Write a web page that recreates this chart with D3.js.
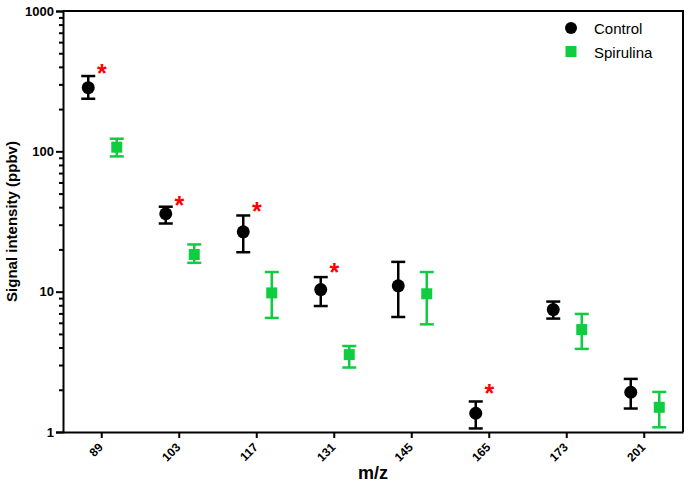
<!DOCTYPE html>
<html>
<head>
<meta charset="utf-8">
<script src="https://cdn.jsdelivr.net/npm/d3@7"></script>
<style>
body { margin: 0; background: #fff; }
text { font-family: "Liberation Sans", Arial, sans-serif; }
.axis path, .axis line { stroke: #000; stroke-width: 2px; }
.axis text { font-weight: bold; font-size: 12px; fill: #000; }
.label { font-weight: bold; fill: #000; }
</style>
</head>
<body>
<div id="chart"></div>
<script>
// m/z categories
let mz = ["89", "103", "117", "131", "145", "165", "173", "201"];

// Control: mean, lower, upper (ppbv)
let controlMean = [284, 35.9, 26.7, 10.35, 11.0, 1.36, 7.45, 1.92];
let controlLow  = [237, 30.6, 19.1, 7.9, 6.6, 1.06, 6.43, 1.47];
let controlHigh = [344, 40.3, 34.9, 12.7, 16.3, 1.65, 8.5, 2.39];

// Spirulina: mean, lower, upper (ppbv)
let spiruMean = [107, 18.4, 9.8, 3.56, 9.66, null, 5.37, 1.5];
let spiruLow  = [92, 16.05, 6.5, 2.88, 5.85, null, 3.91, 1.08];
let spiruHigh = [123, 21.7, 13.8, 4.1, 13.8, null, 6.94, 1.93];

// significance markers
let starCats = ["89", "103", "117", "131", "165"];
let starVals = [380, 43.4, 39.2, 14.5, 2.0];

let yTicks = [1, 10, 100, 1000];

let margin = {top: 11, right: 10, left: 63, bottom: 57};
let width = 693 - margin.left - margin.right;
let height = 489 - margin.top - margin.bottom;

let green = "#10cc40";

let svg = d3.select("#chart")
    .append("svg")
    .attr("width", width + margin.left + margin.right)
    .attr("height", height + margin.top + margin.bottom)
    .append("g")
    .attr("transform", "translate(" + margin.left + ", " + margin.top + ")");

let xScale = d3.scaleBand().domain(mz).range([0, width]);
let yScale = d3.scaleLog().domain([1, 1000]).range([height, 0]);

let xc = (d) => xScale(d) + xScale.bandwidth() / 2;

// minor ticks on y axis
let minor = [];
for (let dec = 1; dec < 1000; dec *= 10) {
    for (let k = 2; k < 10; k++) minor.push(dec * k);
}
svg.append("g")
    .attr("class", "axis")
    .call(d3.axisLeft(yScale).tickValues(minor).tickSize(4).tickFormat(""))
    .select(".domain").remove();

let yAxis = d3.axisLeft(yScale).tickValues(yTicks).tickSize(7).tickPadding(2)
    .tickFormat(d3.format("d"));
svg.append("g")
    .attr("class", "axis")
    .call(yAxis)
    .selectAll("text")
    .style("font-size", "13px");

let xAxis = d3.axisBottom(xScale).tickSize(6).tickSizeOuter(0);
svg.append("g")
    .attr("class", "axis")
    .attr("transform", "translate(0," + height + ")")
    .call(xAxis)
    .selectAll("text")
    .attr("text-anchor", "end")
    .attr("x", 0)
    .attr("y", 0)
    .attr("dy", "0.35em")
    .attr("transform", "translate(-1,13) rotate(-45)");

// top and right border
svg.append("path")
    .attr("d", "M0,0H" + width + "V" + height)
    .attr("fill", "none")
    .attr("stroke", "#000")
    .attr("stroke-width", 2);

// error bars + markers for one series
function drawSeries(mean, low, high, color, offset, shape) {
    let data = mz.map((c, i) => ({c: c, m: mean[i], lo: low[i], hi: high[i]}))
        .filter((d) => d.m != null);
    let g = svg.append("g");
    let cap = 7;
    g.selectAll(".stem").data(data).enter().append("line")
        .attr("x1", (d) => xc(d.c) + offset)
        .attr("x2", (d) => xc(d.c) + offset)
        .attr("y1", (d) => yScale(d.lo))
        .attr("y2", (d) => yScale(d.hi))
        .attr("stroke", color).attr("stroke-width", 2.5);
    g.selectAll(".capT").data(data).enter().append("line")
        .attr("x1", (d) => xc(d.c) + offset - cap)
        .attr("x2", (d) => xc(d.c) + offset + cap)
        .attr("y1", (d) => yScale(d.hi))
        .attr("y2", (d) => yScale(d.hi))
        .attr("stroke", color).attr("stroke-width", 2.5);
    g.selectAll(".capB").data(data).enter().append("line")
        .attr("x1", (d) => xc(d.c) + offset - cap)
        .attr("x2", (d) => xc(d.c) + offset + cap)
        .attr("y1", (d) => yScale(d.lo))
        .attr("y2", (d) => yScale(d.lo))
        .attr("stroke", color).attr("stroke-width", 2.5);
    if (shape === "circle") {
        g.selectAll("circle").data(data).enter().append("circle")
            .attr("cx", (d) => xc(d.c) + offset)
            .attr("cy", (d) => yScale(d.m))
            .attr("r", 6.5)
            .attr("fill", color);
    } else {
        g.selectAll("rect").data(data).enter().append("rect")
            .attr("x", (d) => xc(d.c) + offset - 5.5)
            .attr("y", (d) => yScale(d.m) - 5.5)
            .attr("width", 11)
            .attr("height", 11)
            .attr("fill", color);
    }
}

drawSeries(controlMean, controlLow, controlHigh, "#000", -13.5, "circle");
drawSeries(spiruMean, spiruLow, spiruHigh, green, 15, "square");

// asterisks
svg.selectAll(".star")
    .data(starCats.map((c, i) => ({c: c, v: starVals[i]})))
    .enter()
    .append("text")
    .attr("x", (d) => xc(d.c))
    .attr("y", (d) => yScale(d.v) + 12)
    .attr("text-anchor", "middle")
    .attr("fill", "#ff0000")
    .style("font-size", "25px")
    .style("font-weight", "bold")
    .text("*");

// axis titles
svg.append("text")
    .attr("class", "label")
    .attr("x", width / 2)
    .attr("y", height + 47)
    .attr("text-anchor", "middle")
    .style("font-size", "18px")
    .text("m/z");

svg.append("text")
    .attr("class", "label")
    .attr("transform", "rotate(-90)")
    .attr("x", -height / 2)
    .attr("y", -46)
    .attr("text-anchor", "middle")
    .style("font-size", "15px")
    .text("Signal intensity (ppbv)");

// legend
svg.append("circle")
    .attr("cx", 508)
    .attr("cy", 17)
    .attr("r", 6)
    .attr("fill", "#000");
svg.append("text")
    .attr("x", 531)
    .attr("y", 22.5)
    .style("font-size", "15px")
    .text("Control");

svg.append("rect")
    .attr("x", 502.5)
    .attr("y", 35)
    .attr("width", 11)
    .attr("height", 11)
    .attr("fill", green);
svg.append("text")
    .attr("x", 531)
    .attr("y", 46.5)
    .style("font-size", "15px")
    .text("Spirulina");
</script>
</body>
</html>
